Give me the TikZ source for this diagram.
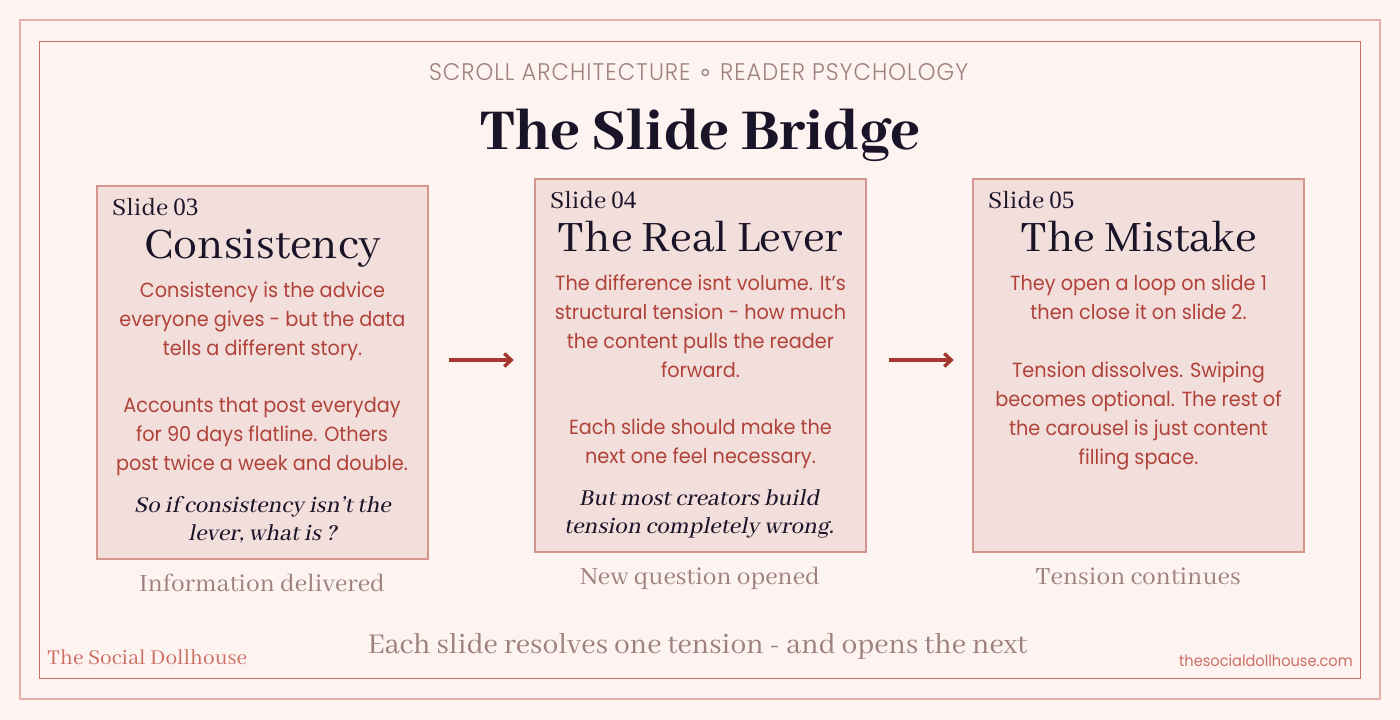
\documentclass[tikz,border=0pt]{standalone}
\usepackage{fontspec}
\usetikzlibrary{arrows.meta}
\setmainfont{Abhaya Libre}
\newfontfamily\sansf[FakeStretch=0.94]{Poppins}
\newfontfamily\sansl[FakeStretch=0.94,LetterSpace=4.3]{Poppins Light}
\newfontfamily\symf{DejaVu Sans}
\newfontfamily\digitf{Liberation Serif}
\newfontfamily\titlef{Abhaya Libre ExtraBold}
\newfontfamily\itf[FakeSlant=0.2]{Abhaya Libre Medium}
\definecolor{bgc}{HTML}{FDF3F0}
\definecolor{boxfill}{HTML}{F2DEDB}
\definecolor{boxline}{HTML}{D4958C}
\definecolor{redt}{HTML}{B0423A}
\definecolor{darkc}{HTML}{1A1428}
\definecolor{greyc}{HTML}{9E807C}
\definecolor{roseb}{HTML}{CC6E64}
\definecolor{outerb}{HTML}{E4B0A8}
\definecolor{arrowc}{HTML}{A5382E}
\tikzset{
  x=1pt,y=-1pt,
  slidebox/.style={draw=boxline,fill=boxfill,line width=2pt,minimum width=331.5pt,minimum height=373pt,inner sep=0pt,outer sep=0pt},
  body/.style={font=\fontsize{20.5}{29}\selectfont\sansf,text=redt,align=center,inner sep=0pt},
  hook/.style={font=\fontsize{25}{28.5}\selectfont\itf,text=darkc,align=center,inner sep=0pt},
  head/.style={font=\fontsize{47.7}{52}\selectfont,text=darkc,inner sep=0pt},
  tag/.style={font=\fontsize{27}{30}\selectfont,text=darkc,inner sep=0pt,anchor=base west},
  caption/.style={font=\fontsize{27.3}{30}\selectfont,text=greyc,inner sep=0pt,anchor=base},
  link/.style={draw=arrowc,line width=3.4pt,-{Straight Barb[length=7pt,width=13pt]}},
}
\newcommand{\dgt}[1]{{\digitf\fontsize{25}{30}\selectfont #1}}
\begin{document}
\begin{tikzpicture}
\useasboundingbox (0,0) rectangle (1400,720);
\fill[bgc] (0,0) rectangle (1400,720);
\draw[outerb,line width=1.3pt] (20,20) rectangle (1380,699);
\draw[roseb,line width=1pt] (39.5,41.5) rectangle (1360.5,678.5);

\node[font=\fontsize{24}{26}\selectfont\sansl,text=greyc,inner sep=0pt,anchor=base] (kicker) at (698.5,80) {SCROLL ARCHITECTURE {\symf\fontsize{24}{26}\selectfont ∘} READER PSYCHOLOGY};
\node[font=\fontsize{63.7}{70}\selectfont\titlef,text=darkc,inner sep=0pt,anchor=base] (title) at (700.5,149) {The Slide Bridge};

\node[slidebox] (s3) at (262.5,372) {};
\node[slidebox] (s4) at (700.5,365.5) {};
\node[slidebox] (s5) at (1138.5,365.5) {};

\node[tag] (t3) at (112,215) {Slide \dgt{03}};
\node[tag] (t4) at (550,208) {Slide \dgt{04}};
\node[tag] (t5) at (988,208) {Slide \dgt{05}};

\node[head,anchor=base] (h3) at (263,258) {Consistency};
\node[head,anchor=base] (h4) at (700.5,251) {The Real Lever};
\node[head,anchor=base] (h5) at (1138.5,251) {The Mistake};

\node[body,anchor=center] (b3a) at (262.5,321) {Consistency is the advice\\everyone gives - but the data\\tells a different story.};
\node[body,anchor=center] (b3b) at (262,437) {Accounts that post everyday\\for 90 days flatline. Others\\post twice a week and double.};
\node[hook,anchor=center] (q3) at (262.5,519.5) {So if consistency isn’t the\\lever, what is ?};

\node[body,anchor=center] (b4a) at (700.5,326.5) {The difference isnt volume. It’s\\structural tension - how much\\the content pulls the reader\\forward.};
\node[body,anchor=center] (b4b) at (700.5,443.5) {Each slide should make the\\next one feel necessary.};
\node[hook,anchor=center] (q4) at (699,514) {But most creators build\\tension completely wrong.};

\node[body,anchor=center] (b5a) at (1138.5,297.5) {They open a loop on slide 1\\then close it on slide 2.};
\node[body,anchor=center] (b5b) at (1138.5,415.5) {Tension dissolves. Swiping\\becomes optional. The rest of\\the carousel is just content\\filling space.};

\node[caption] (c3) at (262,591) {Information delivered};
\node[caption] (c4) at (700,584) {New question opened};
\node[caption] (c5) at (1138,584) {Tension continues};

\node[font=\fontsize{31.5}{34}\selectfont,text=greyc,inner sep=0pt,anchor=base] (foot) at (697.5,653) {Each slide resolves one tension - and opens the next};
\node[font=\fontsize{23.2}{28}\selectfont,text=roseb,inner sep=0pt,anchor=base west] (brand) at (47,664) {The Social Dollhouse};
\node[font=\fontsize{15.5}{18}\selectfont\sansf,text=roseb,inner sep=0pt,anchor=base east] (site) at (1353,666) {thesocialdollhouse.com};

\coordinate (ay) at (0,360);
\draw[link,shorten <=21pt,shorten >=21pt] (s3.east |- ay) -- (s4.west |- ay);
\draw[link,shorten <=23pt,shorten >=19pt] (s4.east |- ay) -- (s5.west |- ay);
\end{tikzpicture}
\end{document}
